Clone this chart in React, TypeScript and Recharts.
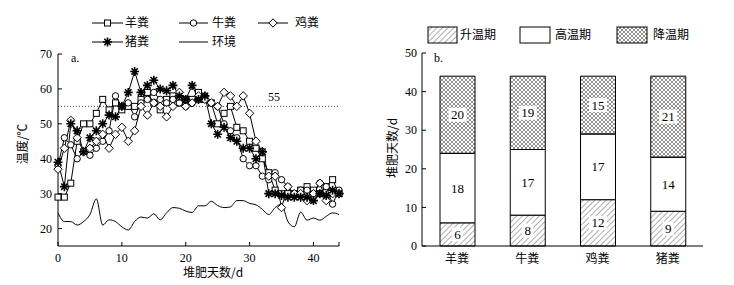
import React from "react";
import {
  LineChart, Line, BarChart, Bar, XAxis, YAxis, ReferenceLine, LabelList,
} from "recharts";

// composting day (x axis of panel a)
const days = [
  0, 1, 2, 3, 4, 5, 6, 7, 8, 9, 10, 11, 12, 13, 14, 15, 16, 17, 18, 19, 20, 21,
  22, 23, 24, 25, 26, 27, 28, 29, 30, 31, 32, 33, 34, 35, 36, 37, 38, 39, 40, 41, 42, 43, 44,
];

// pile temperatures, °C
const sheep = [
  29, 29, 33, 45, 50, 50, 53, 57, 54, 56, 54, 55, 55, 57, 59, 56, 54, 57, 58, 56,
  57, 57, 59, 57, 56, 50, 53, 55, 49, 48, 45, 43, 40, 36, 31, 30, 30, 30, 31, 32,
  31, 30, 32, 34, 30,
];
const cattle = [
  38, 46, 44, 40, 42, 41, 43, 45, 48, 58, 55, 56, 52, 56, 57, 59, 57, 56, 57, 56,
  55, 56, 57, 58, 56, 55, 50, 48, 46, 40, 38, 38, 35, 34, 36, 34, 32, 30, 31, 31,
  30, 33, 32, 27, 31,
];
const chicken = [
  37, 43, 51, 46, 42, 43, 45, 47, 43, 47, 49, 45, 48, 55, 52.5, 56, 55, 52, 55, 59,
  55, 56, 58, 57, 56, 55, 59, 58, 55, 58, 53, 45, 42, 35, 35, 26, 32, 30, 30, 28,
  30, 33, 28, 30, 30,
];
const pig = [
  39, 32, 50, 48, 42, 46, 48, 50, 52.5, 52, 55, 59, 65, 59, 61, 62.5, 60, 59.5, 61, 58,
  57, 61, 57, 58, 50, 47, 49, 46, 45, 43, 43, 40, 42, 30, 30, 29.5, 29, 29, 29, 29,
  28, 30, 29.5, 31, 30,
];
const ambient = [
  24.5, 22, 22, 21, 22, 24, 28.5, 21, 22.5, 22, 20.5, 19.6, 22, 23.3, 23, 24.2, 22.5, 24.5, 26, 25.8,
  25, 24.6, 26.5, 26.5, 27.8, 26.6, 26, 26.2, 28, 28, 27.2, 26.8, 25.5, 24, 26, 27, 22, 20.5, 24.7, 22.4,
  23, 22.4, 23.5, 24.5, 24,
];

const tempTicks = [20, 30, 40, 50, 60, 70];
const dayTicks = [0, 10, 20, 30, 40, 44];

// panel b: days in each phase
const manures = ["羊粪", "牛粪", "鸡粪", "猪粪"];
const rising = [6, 8, 12, 9];
const thermo = [18, 17, 17, 14];
const cooling = [20, 19, 15, 21];
const dayCountTicks = [0, 10, 20, 30, 40, 50];

const lineRows = days.map((d, i) => ({
  day: d, sheep: sheep[i], cattle: cattle[i], chicken: chicken[i], pig: pig[i], ambient: ambient[i],
}));
const barRows = manures.map((m, i) => ({
  name: m, rising: rising[i], thermo: thermo[i], cooling: cooling[i],
}));

const SERIF = "'Liberation Serif', 'Noto Sans CJK SC', serif";
const CJK = "'Noto Sans CJK SC', sans-serif";
const tickStyle = { fill: "#000", fontSize: 12, fontFamily: SERIF };

const SquareDot = (p: any) =>
  p.cx == null ? <g key={p.index} /> : (
    <rect key={p.index} x={p.cx - 3} y={p.cy - 3} width={6} height={6} fill="#fff" stroke="#000" strokeWidth={1} />
  );
const CircleDot = (p: any) =>
  p.cx == null ? <g key={p.index} /> : (
    <circle key={p.index} cx={p.cx} cy={p.cy} r={3.2} fill="#fff" stroke="#000" strokeWidth={1} />
  );
const DiamondDot = (p: any) =>
  p.cx == null ? <g key={p.index} /> : (
    <path key={p.index} d={`M${p.cx},${p.cy - 4.2}L${p.cx + 4.2},${p.cy}L${p.cx},${p.cy + 4.2}L${p.cx - 4.2},${p.cy}Z`} fill="#fff" stroke="#000" strokeWidth={1} />
  );
const starPath = (x: number, y: number) =>
  `M${x - 4.5},${y}L${x + 4.5},${y}M${x},${y - 4.5}L${x},${y + 4.5}M${x - 3.2},${y - 3.2}L${x + 3.2},${y + 3.2}M${x - 3.2},${y + 3.2}L${x + 3.2},${y - 3.2}`;
const StarDot = (p: any) =>
  p.cx == null ? <g key={p.index} /> : (
    <g key={p.index}>
      <path d={starPath(p.cx, p.cy)} stroke="#000" strokeWidth={1.6} />
      <circle cx={p.cx} cy={p.cy} r={1.8} fill="#000" />
    </g>
  );

const BoxLabel = (props: any) => {
  const { x, y, width, height, value } = props;
  const cx = Number(x) + Number(width) / 2;
  const cy = Number(y) + Number(height) / 2;
  const w = String(value).length * 7 + 4;
  return (
    <g>
      <rect x={cx - w / 2} y={cy - 7} width={w} height={14} fill="#fff" />
      <text x={cx} y={cy} dy="0.35em" textAnchor="middle" fontSize={13} fontFamily={SERIF} fill="#000">
        {value}
      </text>
    </g>
  );
};

function Patterns({ prefix }: { prefix: string }) {
  return (
    <defs>
      <pattern id={`${prefix}-hatch`} patternUnits="userSpaceOnUse" width={4} height={4} patternTransform="rotate(45)">
        <line x1={0} y1={0} x2={0} y2={4} stroke="#333" strokeWidth={0.8} />
      </pattern>
      <pattern id={`${prefix}-cross`} patternUnits="userSpaceOnUse" width={4} height={4}>
        <path d="M0,0L4,4M4,0L0,4" stroke="#444" strokeWidth={0.6} />
      </pattern>
    </defs>
  );
}

export default function App() {
  return (
    <div style={{ position: "absolute", left: 0, top: 0, width: 734, height: 285, background: "#fff" }}>
      {/* a. temperature curves */}
      <div style={{ position: "absolute", left: 0, top: 0 }}>
        <LineChart width={370} height={285} data={lineRows} margin={{ top: 54, right: 31, left: 28, bottom: 14 }}>
          <XAxis
            dataKey="day" type="number" domain={[0, 44]} ticks={dayTicks}
            tickFormatter={(v: number) => (v === 44 ? "" : String(v))}
            height={25} tickSize={-4} tickMargin={11} tick={tickStyle}
            axisLine={{ stroke: "#000" }} tickLine={{ stroke: "#000" }}
          />
          <YAxis
            type="number" domain={[15, 70]} ticks={tempTicks} width={30}
            tickSize={-4} tickMargin={10} tick={tickStyle}
            axisLine={{ stroke: "#000" }} tickLine={{ stroke: "#000" }}
          />
          <ReferenceLine y={55} stroke="#444" strokeDasharray="1 2" />
          <Line type="monotone" dataKey="ambient" stroke="#000" strokeWidth={1} dot={false} isAnimationActive={false} />
          <Line type="linear" dataKey="sheep" stroke="#000" strokeWidth={1} dot={SquareDot} isAnimationActive={false} />
          <Line type="linear" dataKey="cattle" stroke="#000" strokeWidth={1} dot={CircleDot} isAnimationActive={false} />
          <Line type="linear" dataKey="chicken" stroke="#000" strokeWidth={1} dot={DiamondDot} isAnimationActive={false} />
          <Line type="linear" dataKey="pig" stroke="#000" strokeWidth={1} dot={StarDot} isAnimationActive={false} />
        </LineChart>
      </div>

      {/* b. phase durations */}
      <div style={{ position: "absolute", left: 370, top: 0 }}>
        <BarChart width={364} height={285} data={barRows} margin={{ top: 53, right: 31, left: 22, bottom: 14 }}>
          <Patterns prefix="bar" />
          <XAxis
            dataKey="name" height={25} tickLine={false} tickSize={0} tickMargin={8}
            tick={{ fill: "#000", fontSize: 12, fontFamily: CJK }} axisLine={{ stroke: "#000" }}
          />
          <YAxis
            type="number" domain={[0, 50]} ticks={dayCountTicks} width={30}
            tickSize={-4} tickMargin={9} tick={tickStyle}
            axisLine={{ stroke: "#000" }} tickLine={{ stroke: "#000" }}
          />
          <Bar dataKey="rising" stackId="s" barSize={35} fill="url(#bar-hatch)" stroke="#000" strokeWidth={1} isAnimationActive={false}>
            <LabelList dataKey="rising" content={BoxLabel} />
          </Bar>
          <Bar dataKey="thermo" stackId="s" barSize={35} fill="#fff" stroke="#000" strokeWidth={1} isAnimationActive={false}>
            <LabelList dataKey="thermo" content={BoxLabel} />
          </Bar>
          <Bar dataKey="cooling" stackId="s" barSize={35} fill="url(#bar-cross)" stroke="#000" strokeWidth={1} isAnimationActive={false}>
            <LabelList dataKey="cooling" content={BoxLabel} />
          </Bar>
        </BarChart>
      </div>

      {/* legends, panel marks and axis titles */}
      <svg width={734} height={285} style={{ position: "absolute", left: 0, top: 0, pointerEvents: "none" }}>
        <Patterns prefix="lg" />
        <g fontFamily={CJK} fontSize={12} fill="#000">
          <line x1={92} y1={23} x2={123} y2={23} stroke="#000" />
          {SquareDot({ cx: 107.5, cy: 23, index: 0 })}
          <text x={125} y={27}>羊粪</text>
          <line x1={179} y1={23} x2={208} y2={23} stroke="#000" />
          {CircleDot({ cx: 193.5, cy: 23, index: 1 })}
          <text x={212} y={27}>牛粪</text>
          <line x1={258} y1={23} x2={288} y2={23} stroke="#000" />
          {DiamondDot({ cx: 273, cy: 23, index: 2 })}
          <text x={295} y={27}>鸡粪</text>
          <line x1={92} y1={42} x2={123} y2={42} stroke="#000" />
          {StarDot({ cx: 107.5, cy: 42, index: 3 })}
          <text x={125} y={46}>猪粪</text>
          <line x1={179} y1={42} x2={208} y2={42} stroke="#000" />
          <text x={212} y={46}>环境</text>

          <rect x={428} y={27} width={29} height={16} fill="url(#lg-hatch)" stroke="#000" />
          <text x={460} y={39}>升温期</text>
          <rect x={520} y={27} width={30} height={16} fill="#fff" stroke="#000" />
          <text x={555} y={39}>高温期</text>
          <rect x={617} y={27} width={30} height={16} fill="url(#lg-cross)" stroke="#000" />
          <text x={653} y={39}>降温期</text>

          <text x={213} y={277} textAnchor="middle">堆肥天数/d</text>
          <text x={0} y={0} textAnchor="middle" transform="translate(27,144) rotate(-90)">温度/℃</text>
          <text x={0} y={0} textAnchor="middle" transform="translate(397,148) rotate(-90)">堆肥天数/d</text>
        </g>
        <g fontFamily={SERIF} fontSize={12} fill="#000">
          <text x={71} y={62}>a.</text>
          <text x={434} y={62}>b.</text>
          <text x={274} y={101} textAnchor="middle">55</text>
        </g>
      </svg>
    </div>
  );
}
